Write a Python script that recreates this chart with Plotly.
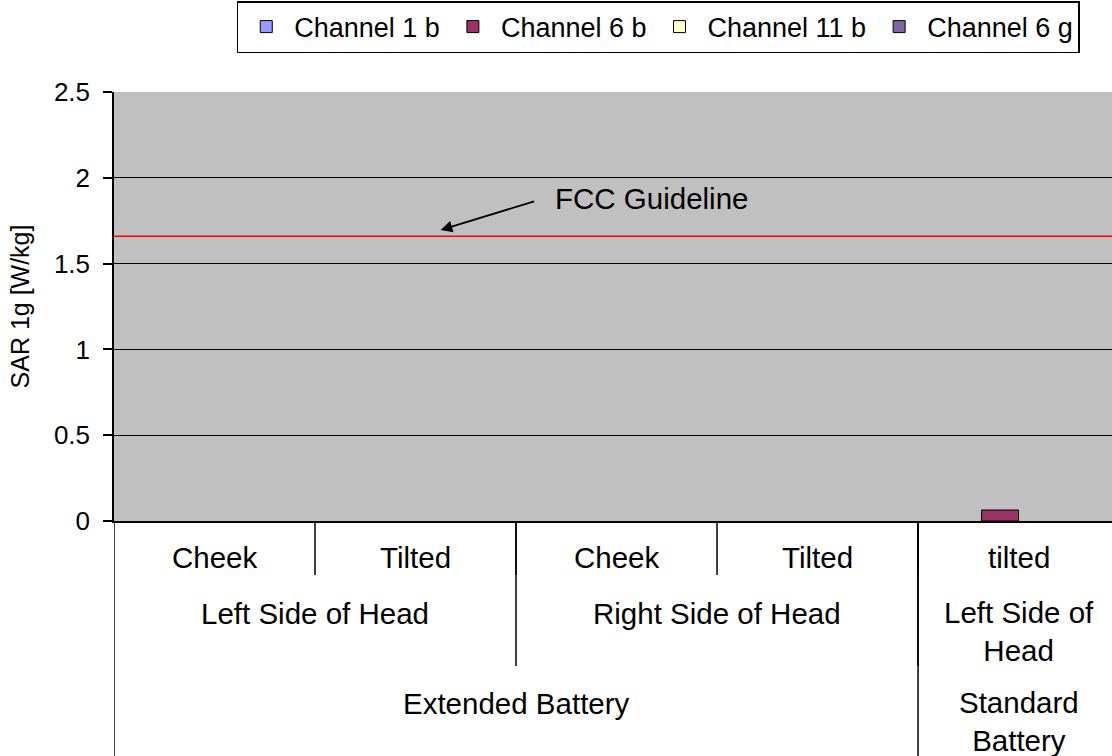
import plotly.graph_objects as go

# ---- data ----
series_names = ["Channel 1 b", "Channel 6 b", "Channel 11 b", "Channel 6 g"]
series_colors = ["#9999FF", "#993366", "#FFFFCC", "#8064A2"]
positions = ["Cheek", "Tilted", "Cheek", "Tilted", "tilted"]
ch1b = [None, None, None, None, None]
ch6b = [None, None, None, None, 0.064]
ch11b = [None, None, None, None, None]
ch6g = [None, None, None, None, None]
series_values = [ch1b, ch6b, ch11b, ch6g]

# group labels: (text, first index, last index)
sides = [("Left Side of Head", 0, 1), ("Right Side of Head", 2, 3), ("Left Side of<br>Head", 4, 4)]
batteries = [("Extended Battery", 0, 3), ("Standard<br>Battery", 4, 4)]
fcc_limit = 1.66
y_ticks = [0, 0.5, 1, 1.5, 2, 2.5]
y_ticktext = ["0", "0.5", "1", "1.5", "2", "2.5"]

FONT = "Liberation Sans, Arial, sans-serif"
x_idx = list(range(len(positions)))

fig = go.Figure()
for name, color, vals in zip(series_names, series_colors, series_values):
    fig.add_trace(go.Bar(
        x=x_idx, y=vals, name=name,
        marker=dict(color=color, line=dict(color="black", width=1)),
    ))

fig.update_layout(
    width=1112, height=756,
    margin=dict(l=114, r=0, t=92, b=235),
    paper_bgcolor="white", plot_bgcolor="#C0C0C0",
    barmode="group", bargap=0.264, bargroupgap=0,
    font=dict(family=FONT, size=26, color="black"),
    showlegend=True,
    legend=dict(
        orientation="h", x=0.123, xanchor="left", y=1.212, yanchor="top",
        bgcolor="white", bordercolor="black", borderwidth=1.5,
        font=dict(family=FONT, size=27, color="black"),
        traceorder="normal", itemwidth=46,
    ),
    xaxis=dict(
        range=[-0.5, 4.465], showticklabels=False, ticks="",
        showgrid=False, zeroline=False, showline=True,
        linecolor="black", linewidth=2, fixedrange=True,
    ),
    yaxis=dict(
        range=[0, 2.5], tickvals=y_ticks, ticktext=y_ticktext,
        showgrid=True, gridcolor="black", gridwidth=1,
        zeroline=False, showline=True, linecolor="black", linewidth=1.5,
        ticks="outside", ticklen=9, tickcolor="black", tickwidth=1.5,
        ticklabelstandoff=8,
        title=dict(text="SAR 1g [W/kg]", font=dict(family=FONT, size=25), standoff=17),
        tickfont=dict(family=FONT, size=26),
    ),
)

# FCC guideline line
fig.add_shape(type="line", xref="paper", x0=0, x1=1, yref="y", y0=fcc_limit, y1=fcc_limit,
              line=dict(color="red", width=1.5))
fig.add_annotation(x=1.125, y=1.696, xref="x", yref="y", text="", showarrow=True,
                   ax=95, ay=-29, axref="pixel", ayref="pixel",
                   arrowhead=2, arrowsize=1.3, arrowwidth=1.8, arrowcolor="black")
fig.add_annotation(x=(553 - 114) / 201 - 0.5, y=1.882, xref="x", yref="y",
                   text="FCC Guideline", showarrow=False,
                   font=dict(family=FONT, size=29.5), xanchor="left")

# Category table lines (below the axis)
def vline(xpos, depth):
    fig.add_shape(type="line", xref="x", x0=xpos, x1=xpos, yref="paper", yanchor=0,
                  ysizemode="pixel", y0=0, y1=-depth, line=dict(color="black", width=1.5))

vline(-0.5, 235)
for i in range(len(positions) - 1):
    vline(i + 0.5, 54)
for text, a, b in sides[:-1]:
    vline(b + 0.5, 145)
for text, a, b in batteries[:-1]:
    vline(b + 0.5, 235)

def label(xc, text, shift):
    fig.add_annotation(x=xc, y=0, xref="x", yref="paper", text=text, showarrow=False,
                       yanchor="middle", yshift=shift, font=dict(family=FONT, size=29.5))

for i, p in enumerate(positions):
    label(i, p, -36)
for text, a, b in sides:
    label((a + b) / 2, text, -92 if "<br>" not in text else -110)
for text, a, b in batteries:
    label((a + b) / 2, text, -182 if "<br>" not in text else -200)

fig.write_html("out.html", config={"displayModeBar": False},
               post_script="document.body.style.margin='0px';")
